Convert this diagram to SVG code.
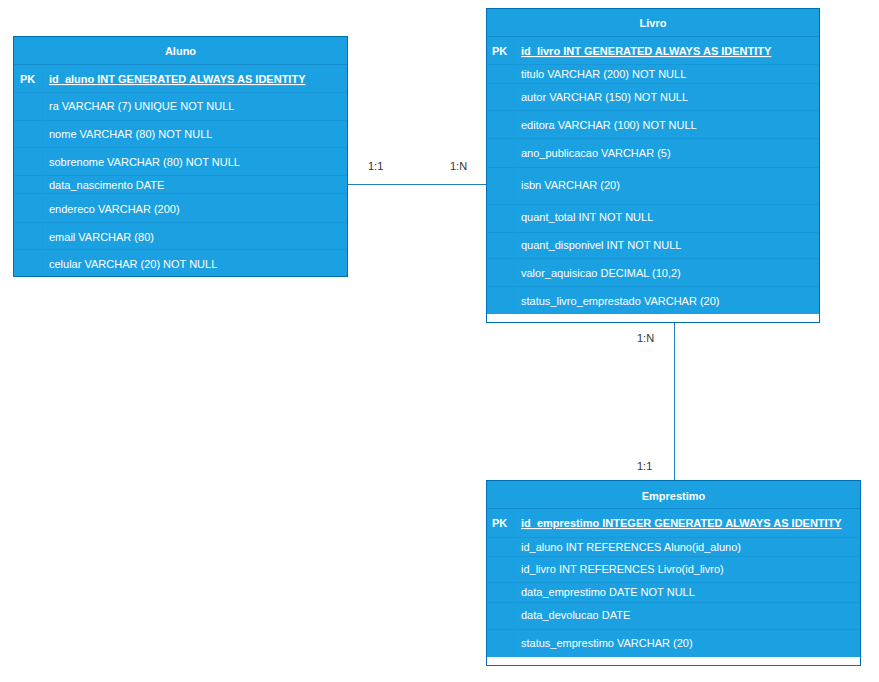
<svg xmlns="http://www.w3.org/2000/svg" width="879" height="682" viewBox="0 0 879 682">
<style>
.box{fill:#1ba1e2;stroke:#006eaf;stroke-width:1}
.sep{stroke:#1897d8;stroke-width:1}
.col{stroke:#1a9cdd;stroke-width:1}
.h{font-family:"Liberation Sans",Arial,sans-serif;font-size:11px;font-weight:bold;fill:#ffffff}
.t{font-family:"Liberation Sans",Arial,sans-serif;font-size:11px;fill:#ffffff}
.pk{font-family:"Liberation Sans",Arial,sans-serif;font-size:11px;font-weight:bold;fill:#ffffff;text-decoration:underline}
.lbl{font-family:"Liberation Sans",Arial,sans-serif;font-size:11px;fill:#333333}
.conn{stroke:#1f7fc0;stroke-width:1;fill:none}
</style>
<rect width="879" height="682" fill="#ffffff"/>
<g id="connectors">
<line class="conn" x1="347" y1="184.5" x2="486" y2="184.5"/>
<line class="conn" x1="674.5" y1="323" x2="674.5" y2="480"/>
<text class="lbl" x="368" y="170">1:1</text>
<text class="lbl" x="450" y="170">1:N</text>
<text class="lbl" x="637" y="342">1:N</text>
<text class="lbl" x="637" y="470">1:1</text>
</g>
<g id="aluno">
<rect class="box" x="13.5" y="36.5" width="334" height="240"/>
<line class="sep" x1="14" y1="64.5" x2="347" y2="64.5" style="stroke:#168ccc"/>
<line class="sep" x1="14" y1="92.5" x2="347" y2="92.5"/>
<line class="sep" x1="14" y1="120.5" x2="347" y2="120.5"/>
<line class="sep" x1="14" y1="147.5" x2="347" y2="147.5"/>
<line class="sep" x1="14" y1="175.5" x2="347" y2="175.5"/>
<line class="sep" x1="14" y1="193.5" x2="347" y2="193.5"/>
<line class="sep" x1="14" y1="222.5" x2="347" y2="222.5"/>
<line class="sep" x1="14" y1="249.5" x2="347" y2="249.5"/>
<line class="col" x1="42.5" y1="65" x2="42.5" y2="276"/>
<text class="h" x="180.5" y="55" text-anchor="middle">Aluno</text>
<text class="h" x="20" y="83">PK</text>
<text class="pk" x="49" y="83">id_aluno INT GENERATED ALWAYS AS IDENTITY</text>
<text class="t" x="49" y="110">ra VARCHAR (7) UNIQUE NOT NULL</text>
<text class="t" x="49" y="138">nome VARCHAR (80) NOT NULL</text>
<text class="t" x="49" y="166">sobrenome VARCHAR (80) NOT NULL</text>
<text class="t" x="49" y="189">data_nascimento DATE</text>
<text class="t" x="49" y="213">endereco VARCHAR (200)</text>
<text class="t" x="49" y="241">email VARCHAR (80)</text>
<text class="t" x="49" y="268">celular VARCHAR (20) NOT NULL</text>
</g>
<g id="livro">
<rect x="486.5" y="8.5" width="333" height="314" fill="#ffffff" stroke="#006eaf"/>
<rect x="487" y="9" width="332" height="305" fill="#1ba1e2"/>
<line class="sep" x1="487" y1="36.5" x2="819" y2="36.5" style="stroke:#168ccc"/>
<line class="sep" x1="487" y1="64.5" x2="819" y2="64.5"/>
<line class="sep" x1="487" y1="83.5" x2="819" y2="83.5"/>
<line class="sep" x1="487" y1="110.5" x2="819" y2="110.5"/>
<line class="sep" x1="487" y1="138.5" x2="819" y2="138.5"/>
<line class="sep" x1="487" y1="167.5" x2="819" y2="167.5"/>
<line class="sep" x1="487" y1="204.5" x2="819" y2="204.5"/>
<line class="sep" x1="487" y1="232.5" x2="819" y2="232.5"/>
<line class="sep" x1="487" y1="258.5" x2="819" y2="258.5"/>
<line class="sep" x1="487" y1="286.5" x2="819" y2="286.5"/>
<line class="col" x1="513.5" y1="37" x2="513.5" y2="314"/>
<text class="h" x="653" y="27" text-anchor="middle">Livro</text>
<text class="h" x="492" y="55">PK</text>
<text class="pk" x="521" y="55">id_livro INT GENERATED ALWAYS AS IDENTITY</text>
<text class="t" x="521" y="78">titulo VARCHAR (200) NOT NULL</text>
<text class="t" x="521" y="101">autor VARCHAR (150) NOT NULL</text>
<text class="t" x="521" y="129">editora VARCHAR (100) NOT NULL</text>
<text class="t" x="521" y="157">ano_publicacao VARCHAR (5)</text>
<text class="t" x="521" y="189">isbn VARCHAR (20)</text>
<text class="t" x="521" y="221">quant_total INT NOT NULL</text>
<text class="t" x="521" y="249">quant_disponivel INT NOT NULL</text>
<text class="t" x="521" y="277">valor_aquisicao DECIMAL (10,2)</text>
<text class="t" x="521" y="305">status_livro_emprestado VARCHAR (20)</text>
</g>
<g id="emprestimo">
<rect x="486.5" y="480.5" width="374" height="185" fill="#ffffff" stroke="#006eaf"/>
<rect x="487" y="481" width="373" height="176" fill="#1ba1e2"/>
<line class="sep" x1="487" y1="508.5" x2="860" y2="508.5" style="stroke:#168ccc"/>
<line class="sep" x1="487" y1="537.5" x2="860" y2="537.5"/>
<line class="sep" x1="487" y1="556.5" x2="860" y2="556.5"/>
<line class="sep" x1="487" y1="582.5" x2="860" y2="582.5"/>
<line class="sep" x1="487" y1="602.5" x2="860" y2="602.5"/>
<line class="sep" x1="487" y1="629.5" x2="860" y2="629.5"/>
<line class="col" x1="513.5" y1="509" x2="513.5" y2="657"/>
<text class="h" x="673.5" y="500" text-anchor="middle">Emprestimo</text>
<text class="h" x="492" y="527">PK</text>
<text class="pk" x="521" y="527">id_emprestimo INTEGER GENERATED ALWAYS AS IDENTITY</text>
<text class="t" x="521" y="551">id_aluno INT REFERENCES Aluno(id_aluno)</text>
<text class="t" x="521" y="573">id_livro INT REFERENCES Livro(id_livro)</text>
<text class="t" x="521" y="596">data_emprestimo DATE NOT NULL</text>
<text class="t" x="521" y="619">data_devolucao DATE</text>
<text class="t" x="521" y="647">status_emprestimo VARCHAR (20)</text>
</g>
</svg>
